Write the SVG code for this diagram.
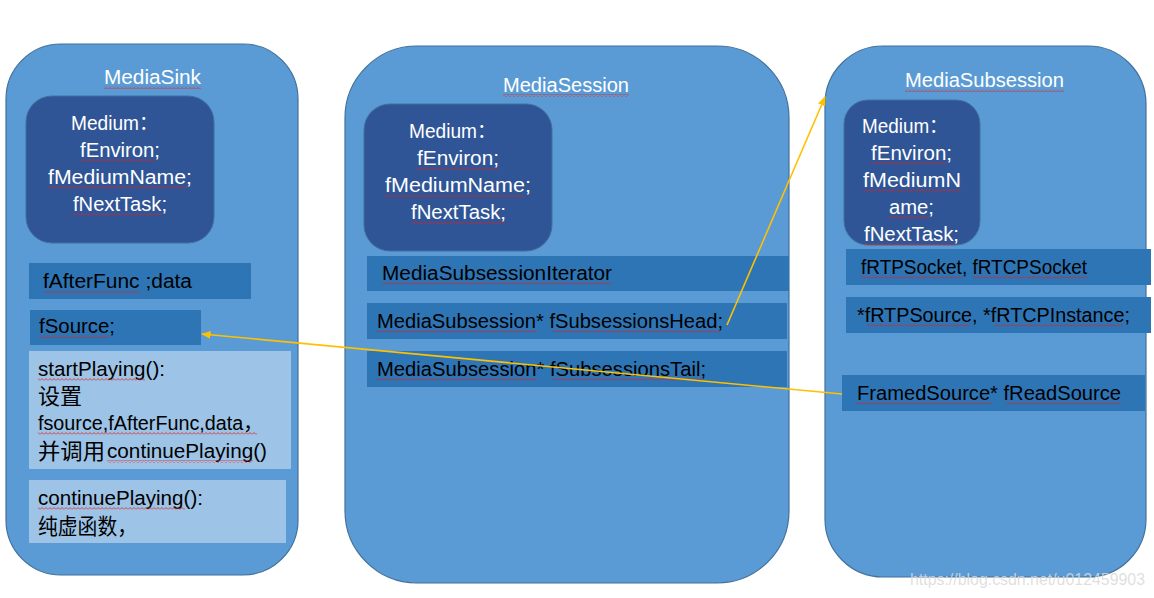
<svg xmlns="http://www.w3.org/2000/svg" width="1154" height="598" viewBox="0 0 1154 598">
<style>
.cont{fill:#5B9BD5;stroke:#41719C;stroke-width:1.2}
.med{fill:#2F5597;stroke:#41719C;stroke-width:1}
.bar{fill:#2E75B6}
.light{fill:#9DC3E6}
text{font-family:"Liberation Sans","Noto Sans CJK SC",sans-serif;font-size:19.5px}
.cjk{font-size:21.5px}
.w{fill:#FFFFFF}
.k{fill:#000000}
.conn{stroke:#FFC000;stroke-width:1.6;fill:none;marker-end:url(#ah)}
.wm{font-size:16px;fill:#DADADA;fill-opacity:0.85}
.sq{fill:url(#wave)}
</style>
<defs>
<marker id="ah" viewBox="0 0 10 10" refX="9" refY="5" markerWidth="6" markerHeight="6" orient="auto-start-reverse" markerUnits="strokeWidth">
<path d="M0,1 L10,5 L0,9 z" fill="#FFC000"/>
</marker>
<pattern id="wave" x="0" y="0" width="4" height="3" patternUnits="userSpaceOnUse">
<path d="M0,2.5 L2,0.5 L4,2.5" fill="none" stroke="#E0201B" stroke-width="0.8"/>
</pattern>
</defs>
<rect width="1154" height="598" fill="#FFFFFF"/>

<g id="MediaSink">
<rect class="cont" x="6" y="44" width="292" height="531" rx="55" ry="55"/>
<text class="w" x="104" y="84" textLength="97" lengthAdjust="spacingAndGlyphs">MediaSink</text>
<rect class="med" x="26" y="96" width="188" height="147" rx="26" ry="26"/>
<text class="w" x="71" y="130" textLength="87" lengthAdjust="spacingAndGlyphs">Medium：</text>
<text class="w" x="80" y="157" textLength="80" lengthAdjust="spacingAndGlyphs">fEnviron;</text>
<text class="w" x="48" y="184" textLength="144" lengthAdjust="spacingAndGlyphs">fMediumName;</text>
<text class="w" x="73" y="211" textLength="94" lengthAdjust="spacingAndGlyphs">fNextTask;</text>
<rect class="bar" x="29" y="263" width="222" height="36"/>
<text class="k" x="43" y="288" textLength="149" lengthAdjust="spacingAndGlyphs">fAfterFunc ;data</text>
<rect class="bar" x="30" y="310" width="171" height="35"/>
<text class="k" x="39" y="333" textLength="76" lengthAdjust="spacingAndGlyphs">fSource;</text>
<rect class="light" x="29" y="351" width="262" height="118"/>
<text class="k" x="38" y="376" textLength="127" lengthAdjust="spacingAndGlyphs">startPlaying():</text>
<text class="k cjk" x="38" y="404" textLength="44" lengthAdjust="spacingAndGlyphs">设置</text>
<text class="k" x="38" y="430" textLength="225" lengthAdjust="spacingAndGlyphs">fsource,fAfterFunc,data，</text>
<text class="k cjk" x="38" y="459" textLength="67" lengthAdjust="spacingAndGlyphs">并调用</text>
<text class="k" x="107" y="458" textLength="160" lengthAdjust="spacingAndGlyphs">continuePlaying()</text>
<rect class="light" x="29" y="480" width="257" height="63"/>
<text class="k" x="38" y="505" textLength="165" lengthAdjust="spacingAndGlyphs">continuePlaying():</text>
<text class="k cjk" x="38" y="534" textLength="99" lengthAdjust="spacingAndGlyphs">纯虚函数，</text>
<rect class="sq" x="104" y="86" width="97" height="3"/>
<rect class="sq" x="80" y="159" width="75" height="3"/>
<rect class="sq" x="48" y="186" width="139" height="3"/>
<rect class="sq" x="73" y="213" width="89" height="3"/>
<rect class="sq" x="43" y="290" width="97" height="3"/>
<rect class="sq" x="39" y="335" width="71" height="3"/>
<rect class="sq" x="38" y="378" width="107" height="3"/>
<rect class="sq" x="38" y="432" width="219" height="3"/>
<rect class="sq" x="107" y="460" width="146" height="3"/>
<rect class="sq" x="38" y="507" width="147" height="3"/>
</g>

<g id="MediaSession">
<rect class="cont" x="345" y="46" width="444" height="537" rx="72" ry="72"/>
<text class="w" x="503" y="92" textLength="126" lengthAdjust="spacingAndGlyphs">MediaSession</text>
<rect class="med" x="364" y="104" width="188" height="147" rx="26" ry="26"/>
<text class="w" x="409" y="138" textLength="87" lengthAdjust="spacingAndGlyphs">Medium：</text>
<text class="w" x="417" y="165" textLength="82" lengthAdjust="spacingAndGlyphs">fEnviron;</text>
<text class="w" x="385" y="192" textLength="146" lengthAdjust="spacingAndGlyphs">fMediumName;</text>
<text class="w" x="411" y="219" textLength="95" lengthAdjust="spacingAndGlyphs">fNextTask;</text>
<rect class="bar" x="367" y="256" width="422" height="35"/>
<text class="k" x="382" y="280" textLength="230" lengthAdjust="spacingAndGlyphs">MediaSubsessionIterator</text>
<rect class="bar" x="367" y="303" width="420" height="36"/>
<text class="k" x="377" y="328" textLength="346" lengthAdjust="spacingAndGlyphs">MediaSubsession* fSubsessionsHead;</text>
<rect class="bar" x="367" y="351" width="420" height="36"/>
<text class="k" x="377" y="376" textLength="329" lengthAdjust="spacingAndGlyphs">MediaSubsession* fSubsessionsTail;</text>
<rect class="sq" x="503" y="94" width="126" height="3"/>
<rect class="sq" x="417" y="167" width="81" height="3"/>
<rect class="sq" x="385" y="194" width="140" height="3"/>
<rect class="sq" x="411" y="221" width="94" height="3"/>
<rect class="sq" x="382" y="282" width="230" height="3"/>
<rect class="sq" x="377" y="330" width="160" height="3"/>
<rect class="sq" x="553" y="330" width="167" height="3"/>
<rect class="sq" x="377" y="378" width="160" height="3"/>
<rect class="sq" x="553" y="378" width="149" height="3"/>
</g>

<g id="MediaSubsession">
<rect class="cont" x="825" y="46" width="321" height="531" rx="58" ry="58"/>
<text class="w" x="905" y="87" textLength="159" lengthAdjust="spacingAndGlyphs">MediaSubsession</text>
<rect class="med" x="844" y="100" width="136" height="145" rx="24" ry="24"/>
<text class="w" x="862" y="133" textLength="86" lengthAdjust="spacingAndGlyphs">Medium：</text>
<text class="w" x="871" y="160" textLength="81" lengthAdjust="spacingAndGlyphs">fEnviron;</text>
<text class="w" x="863" y="187" textLength="98" lengthAdjust="spacingAndGlyphs">fMediumN</text>
<text class="w" x="889" y="214" textLength="45" lengthAdjust="spacingAndGlyphs">ame;</text>
<text class="w" x="864" y="241" textLength="95" lengthAdjust="spacingAndGlyphs">fNextTask;</text>
<rect class="bar" x="846" y="249" width="305" height="36"/>
<text class="k" x="861" y="274" textLength="226" lengthAdjust="spacingAndGlyphs">fRTPSocket, fRTCPSocket</text>
<rect class="bar" x="846" y="297" width="305" height="36"/>
<text class="k" x="857" y="322" textLength="273" lengthAdjust="spacingAndGlyphs">*fRTPSource, *fRTCPInstance;</text>
<rect class="bar" x="842" y="375" width="303" height="36"/>
<text class="k" x="857" y="400" textLength="264" lengthAdjust="spacingAndGlyphs">FramedSource* fReadSource</text>
<rect class="sq" x="905" y="89" width="159" height="3"/>
<rect class="sq" x="871" y="162" width="75" height="3"/>
<rect class="sq" x="863" y="189" width="98" height="3"/>
<rect class="sq" x="889" y="216" width="40" height="3"/>
<rect class="sq" x="864" y="243" width="91" height="3"/>
<rect class="sq" x="861" y="276" width="101" height="3"/>
<rect class="sq" x="973" y="276" width="114" height="3"/>
<rect class="sq" x="867" y="324" width="103" height="3"/>
<rect class="sq" x="994" y="324" width="129" height="3"/>
<rect class="sq" x="857" y="402" width="134" height="3"/>
<rect class="sq" x="1006" y="402" width="115" height="3"/>
</g>

<g id="connectors">
<line class="conn" x1="727" y1="325" x2="825" y2="97"/>
<line class="conn" x1="842" y1="394" x2="202" y2="334"/>
</g>

<text class="wm" x="910" y="585" textLength="235" lengthAdjust="spacingAndGlyphs">https://blog.csdn.net/u012459903</text>
</svg>
